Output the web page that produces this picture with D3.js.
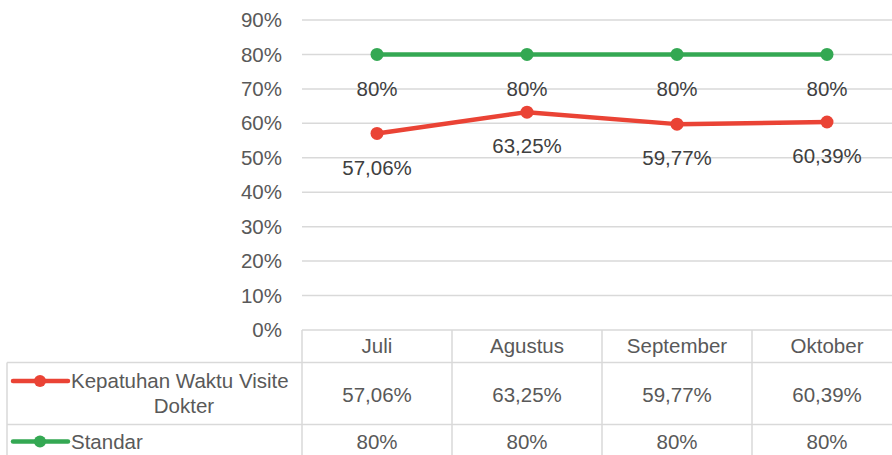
<!DOCTYPE html>
<html><head><meta charset="utf-8">
<script src="https://cdn.jsdelivr.net/npm/d3@7"></script>
<style>body{margin:0;background:#fff}svg{display:block}</style>
</head><body>
<svg id="c" width="892" height="455"></svg>
<script>
const categories = ["Juli", "Agustus", "September", "Oktober"];
const kepatuhan = [0.5706, 0.6325, 0.5977, 0.6039];
const standar = [0.80, 0.80, 0.80, 0.80];
const kepatuhanLabels = ["57,06%", "63,25%", "59,77%", "60,39%"];
const standarLabels = ["80%", "80%", "80%", "80%"];
const yTicks = [0, 0.1, 0.2, 0.3, 0.4, 0.5, 0.6, 0.7, 0.8, 0.9];
const seriesNames = ["Kepatuhan Waktu Visite", "Dokter"];
const standarName = "Standar";

const svg = d3.select("#c");
const font = "'Liberation Sans', Arial, sans-serif";
const fs = 20.5;
const txt = "#595959", txtDark = "#404040", grid = "#d9d9d9";
const red = "#EA4335", green = "#34A853";

const x = d3.scaleBand().domain(categories).range([302, 902]);
const y = d3.scaleLinear().domain([0, 0.9]).range([330, 20]);

const yAxis = d3.axisLeft(y).tickValues(yTicks).tickFormat(d => Math.round(d * 100) + "%").tickSize(0).tickPadding(20);
const ga = svg.append("g").attr("transform", "translate(302,0)").call(yAxis);
ga.select(".domain").remove();
ga.selectAll("text").attr("font-family", font).attr("font-size", fs).attr("fill", txt);
svg.append("g").selectAll("line").data(yTicks).join("line")
  .attr("x1", 302).attr("x2", 902).attr("y1", d => y(d)).attr("y2", d => y(d))
  .attr("stroke", grid).attr("stroke-width", 1.5);

const line = d3.line().x((d, i) => x(categories[i]) + x.bandwidth() / 2).y(d => y(d));
function drawSeries(vals, labels, color) {
  svg.append("path").datum(vals).attr("d", line).attr("fill", "none")
    .attr("stroke", color).attr("stroke-width", 4.5).attr("stroke-linejoin", "round");
  svg.append("g").selectAll("circle").data(vals).join("circle")
    .attr("cx", (d, i) => x(categories[i]) + x.bandwidth() / 2).attr("cy", d => y(d))
    .attr("r", 6.5).attr("fill", color);
  svg.append("g").selectAll("text").data(vals).join("text")
    .attr("x", (d, i) => x(categories[i]) + x.bandwidth() / 2).attr("y", d => y(d) + 34)
    .attr("dy", "0.35em").attr("text-anchor", "middle")
    .attr("font-family", font).attr("font-size", fs).attr("fill", txtDark)
    .text((d, i) => labels[i]);
}
drawSeries(standar, standarLabels, green);
drawSeries(kepatuhan, kepatuhanLabels, red);

const tg = svg.append("g").attr("stroke", grid).attr("stroke-width", 1.5);
const rowTop = [330, 362.5, 424.5, 470];
x.domain().concat(["_end"]).forEach((c, i) => {
  const xx = 302 + i * x.bandwidth();
  tg.append("line").attr("x1", xx).attr("x2", xx).attr("y1", 330).attr("y2", 470);
});
tg.append("line").attr("x1", 7).attr("x2", 902).attr("y1", rowTop[1]).attr("y2", rowTop[1]);
tg.append("line").attr("x1", 7).attr("x2", 902).attr("y1", rowTop[2]).attr("y2", rowTop[2]);
tg.append("line").attr("x1", 7).attr("x2", 7).attr("y1", rowTop[1]).attr("y2", 470);

const cx = c => x(c) + x.bandwidth() / 2;
svg.append("g").selectAll("text").data(categories).join("text")
  .attr("x", d => cx(d)).attr("y", 346).attr("dy", "0.35em").attr("text-anchor", "middle")
  .attr("font-family", font).attr("font-size", fs).attr("fill", txt).text(d => d);
svg.append("g").selectAll("text").data(kepatuhanLabels).join("text")
  .attr("x", (d, i) => cx(categories[i])).attr("y", 395).attr("dy", "0.35em").attr("text-anchor", "middle")
  .attr("font-family", font).attr("font-size", fs).attr("fill", txt).text(d => d);
svg.append("g").selectAll("text").data(standarLabels).join("text")
  .attr("x", (d, i) => cx(categories[i])).attr("y", 441.5).attr("dy", "0.35em").attr("text-anchor", "middle")
  .attr("font-family", font).attr("font-size", fs).attr("fill", txt).text(d => d);

function key(yy, color) {
  svg.append("line").attr("x1", 13).attr("x2", 68).attr("y1", yy).attr("y2", yy)
    .attr("stroke", color).attr("stroke-width", 4.5).attr("stroke-linecap", "round");
  svg.append("circle").attr("cx", 40).attr("cy", yy).attr("r", 6).attr("fill", color);
}
key(381, red);
key(441.5, green);
svg.append("text").attr("x", 71).attr("y", 381).attr("dy", "0.35em")
  .attr("font-family", font).attr("font-size", fs).attr("fill", txt).text(seriesNames[0]);
svg.append("text").attr("x", 184).attr("y", 406).attr("dy", "0.35em").attr("text-anchor", "middle")
  .attr("font-family", font).attr("font-size", fs).attr("fill", txt).text(seriesNames[1]);
svg.append("text").attr("x", 71).attr("y", 441.5).attr("dy", "0.35em")
  .attr("font-family", font).attr("font-size", fs).attr("fill", txt).text(standarName);
</script>
</body></html>
